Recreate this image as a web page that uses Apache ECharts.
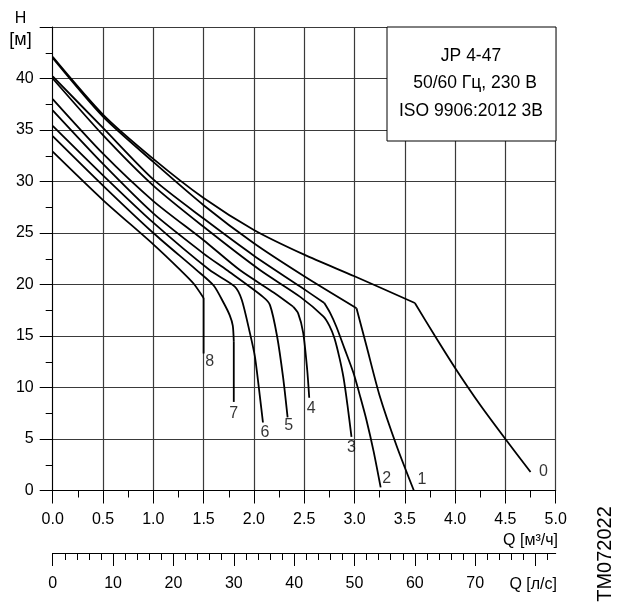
<!DOCTYPE html>
<html><head><meta charset="utf-8">
<script src="https://cdn.jsdelivr.net/npm/echarts@6/dist/echarts.min.js"></script>
<style>html,body{margin:0;padding:0;background:#fff}#c{width:619px;height:605px}</style>
</head><body><div id="c"></div>
<script>
const FONT = '"Liberation Sans", Arial, Helvetica, sans-serif';

// ---- data (Q in m3/h, H in m) ----
const curveNames = ['0','1','2','3','4','5','6','7','8'];
const q0 = [0, 0.5, 1.0, 1.5, 2.0, 2.5, 3.0, 3.6, 3.8, 4.0, 4.25, 4.5, 4.75];
const h0 = [42.1, 36.5, 32.2, 28.4, 25.3, 22.9, 20.8, 18.2, 15.0, 11.9, 8.3, 5.0, 1.8];
const q1 = [0, 0.5, 1.0, 1.5, 2.0, 2.5, 3.02, 3.12, 3.25, 3.42, 3.59];
const h1 = [42.0, 36.3, 31.9, 27.7, 24.0, 20.8, 17.7, 14.0, 9.2, 4.3, 0];
const q2 = [0, 0.5, 1.0, 1.5, 2.0, 2.46, 2.7, 2.76, 2.82, 2.9, 2.99, 3.06, 3.12, 3.19, 3.26];
const h2 = [40.2, 35.2, 30.2, 26.4, 22.8, 19.8, 18.2, 17.2, 15.9, 13.8, 11.4, 9.0, 6.8, 3.8, 0.3];
const q3 = [0, 0.5, 1.0, 1.5, 2.06, 2.46, 2.69, 2.75, 2.8, 2.85, 2.89, 2.93, 2.97];
const h3 = [40.0, 34.5, 29.6, 25.6, 21.4, 18.8, 16.9, 16.0, 14.8, 12.9, 11.0, 8.3, 5.2];
const q4 = [0, 0.5, 1.0, 1.5, 1.86, 2.2, 2.39, 2.44, 2.49, 2.53, 2.55];
const h4 = [38.0, 32.7, 28.1, 24.3, 21.4, 19.2, 17.85, 17.2, 15.3, 11.7, 9.0];
const q5 = [0, 0.5, 1.0, 1.5, 1.73, 2.09, 2.16, 2.23, 2.29, 2.335];
const h5 = [36.9, 31.7, 26.9, 23.0, 21.4, 18.8, 18.0, 15.0, 11.0, 7.1];
const q6 = [0, 0.5, 1.0, 1.56, 1.81, 1.88, 1.96, 2.01, 2.06, 2.09];
const h6 = [35.4, 30.6, 26.0, 21.4, 19.8, 18.5, 15.3, 13.0, 9.1, 6.6];
const q7 = [0, 0.5, 1.0, 1.43, 1.6, 1.7, 1.76, 1.79, 1.8, 1.8];
const h7 = [34.4, 29.6, 25.0, 21.4, 19.9, 18.2, 17.0, 16.0, 14.5, 8.6];
const q8 = [0, 0.5, 1.0, 1.27, 1.4, 1.5, 1.5];
const h8 = [32.9, 28.2, 23.9, 21.4, 20.1, 18.7, 13.3];

const qs = [q0,q1,q2,q3,q4,q5,q6,q7,q8];
const hs = [h0,h1,h2,h3,h4,h5,h6,h7,h8];
// index of the sharp knee point of each curve (-1: no sharp knee)
const kneeIdx = [7, 6, 6, -1, 6, -1, -1, 8, 5];

// tick labels
const yTickLabels = [0,5,10,15,20,25,30,35,40];
const lpmLabels = [0,10,20,30,40,50,60,70];
const lpmMajorTicks = [0,10,20,30,40,50,60,70,80];
const lpmMax = 5 * 1000 / 60;
const lpmMinorTicks = [];
for (let v = 2; v < lpmMax; v += 2) if (v % 10 !== 0) lpmMinorTicks.push(v);

// label offsets (style) for curve numbers, px
const labelOffsets = [[13,0],[8,-11],[6,-9],[0,11],[2,11],[1,8],[2,10],[0,12],[6,8]];

const chart = echarts.init(document.getElementById('c'), null, {renderer:'canvas'});
const black = '#000';
const gridCol = '#3a3a3a';

const series = [];
function lineSeries(pts) {
  return {
    type:'line', xAxisIndex:0, yAxisIndex:0, data:pts,
    symbol:'none', smooth:pts.length > 2 ? 0.25 : false, clip:false,
    lineStyle:{color:black, width:1.8}, z:5, silent:true
  };
}
curveNames.forEach((n, i) => {
  const pts = qs[i].map((q, k) => [q, hs[i][k]]);
  const k = kneeIdx[i];
  if (k > 0) {
    series.push(lineSeries(pts.slice(0, k + 1)));
    series.push(lineSeries(pts.slice(k)));
  } else {
    series.push(lineSeries(pts));
  }
});
series.push({
  type:'scatter', xAxisIndex:0, yAxisIndex:0, symbol:'circle', symbolSize:1,
  itemStyle:{color:'rgba(0,0,0,0)'}, z:6, silent:true,
  data: curveNames.map((n, i) => ({
    value:[qs[i][qs[i].length-1], hs[i][hs[i].length-1]],
    label:{show:true, position:'inside', formatter:n, offset:labelOffsets[i],
      color:black, fontSize:16, fontFamily:FONT}
  }))
});

const option = {
  animation:false,
  backgroundColor:'#fff',
  grid:[
    {left:52.7, right:63.3, top:27, bottom:114.5},
    {left:52.7, right:63.3, top:543, height:10}
  ],
  xAxis:[
    {type:'value', gridIndex:0, position:'bottom', min:0, max:5, interval:0.5,
     axisLine:{show:true, onZero:false, lineStyle:{color:black, width:1}},
     axisTick:{show:true, length:13, lineStyle:{color:black, width:1}},
     minorTick:{show:true, splitNumber:2, length:7, lineStyle:{color:black, width:1}},
     splitLine:{show:true, lineStyle:{color:gridCol, width:1.2}},
     axisLabel:{formatter:v => v.toFixed(1), color:black, fontSize:16, fontFamily:FONT, margin:21}},
    {type:'value', gridIndex:1, position:'bottom', offset:0, min:0, max:lpmMax,
     axisLine:{show:true, onZero:false, lineStyle:{color:black, width:1}},
     axisTick:{show:true, length:13, customValues:lpmMajorTicks, lineStyle:{color:black, width:1}},
     axisLabel:{show:true, customValues:lpmLabels, color:black, fontSize:16, fontFamily:FONT, margin:23},
     splitLine:{show:false}},
    {type:'value', gridIndex:1, position:'bottom', offset:0, min:0, max:lpmMax,
     axisLine:{show:false, onZero:false},
     axisTick:{show:true, length:7, customValues:lpmMinorTicks, lineStyle:{color:black, width:1}},
     axisLabel:{show:false}, splitLine:{show:false}}
  ],
  yAxis:[
    {type:'value', gridIndex:0, min:0, max:45, interval:5,
     axisLine:{show:true, onZero:false, lineStyle:{color:black, width:1}},
     axisTick:{show:true, length:13, lineStyle:{color:black, width:1}},
     minorTick:{show:true, splitNumber:2, length:7, lineStyle:{color:black, width:1}},
     splitLine:{show:true, lineStyle:{color:gridCol, width:1.2}},
     axisLabel:{formatter:v => (yTickLabels.indexOf(v) >= 0 ? String(v) : ''), color:black, fontSize:16, fontFamily:FONT, margin:19}},
    {type:'value', gridIndex:1, show:false, min:0, max:1}
  ],
  graphic:[
    {type:'rect', z:100, shape:{x:387, y:27, width:169, height:114},
     style:{fill:'#fff', stroke:black, lineWidth:1}},
    {type:'text', z:101, style:{x:471, y:56, text:'JP 4-47', textAlign:'center', textVerticalAlign:'middle', fill:black, font:'17.5px ' + FONT}},
    {type:'text', z:101, style:{x:475, y:83.5, text:'50/60 Гц, 230 В', textAlign:'center', textVerticalAlign:'middle', fill:black, font:'17.5px ' + FONT}},
    {type:'text', z:101, style:{x:471, y:111, text:'ISO 9906:2012 3B', textAlign:'center', textVerticalAlign:'middle', fill:black, font:'17.5px ' + FONT}},
    {type:'text', z:101, style:{x:20.5, y:19, text:'H', textAlign:'center', textVerticalAlign:'middle', fill:black, font:'16px ' + FONT}},
    {type:'text', z:101, style:{x:20.5, y:40, text:'[м]', textAlign:'center', textVerticalAlign:'middle', fill:black, font:'18px ' + FONT}},
    {type:'text', z:101, style:{x:558, y:541, text:'Q [м³/ч]', textAlign:'right', textVerticalAlign:'middle', fill:black, font:'16px ' + FONT}},
    {type:'text', z:101, style:{x:557, y:585, text:'Q [л/с]', textAlign:'right', textVerticalAlign:'middle', fill:black, font:'16px ' + FONT}},
    {type:'text', z:101, x:605.5, y:554, rotation:Math.PI/2,
     style:{x:0, y:0, text:'TM072022', textAlign:'center', textVerticalAlign:'middle', fill:black, font:'20px ' + FONT}}
  ],
  series: series
};
chart.setOption(option);
</script>
</body></html>
